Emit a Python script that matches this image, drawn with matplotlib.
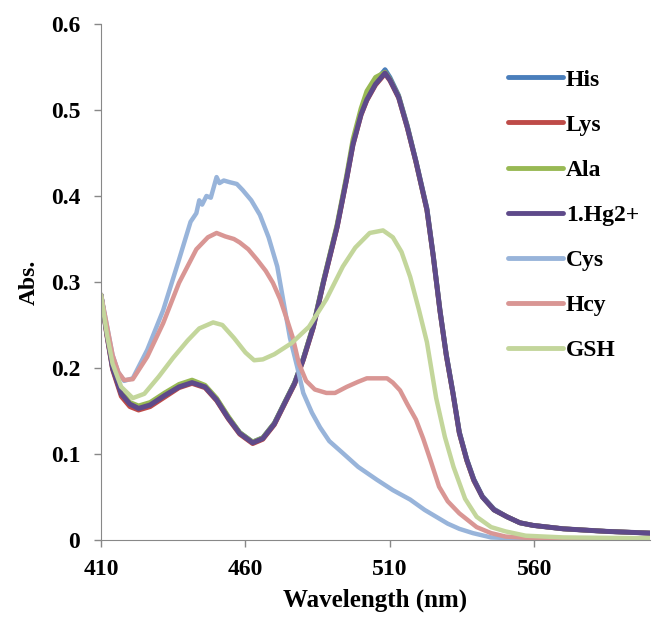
import matplotlib

matplotlib.use("Agg")
import matplotlib.pyplot as plt

# wavelength grid shared by the four overlapping spectra
WL_A = [410, 412, 414, 417, 420, 423, 427, 432, 437, 441.5, 446, 450, 454, 458, 462.5,
        466, 470, 474, 477, 480, 483.5, 487, 491.7, 495, 497.2, 500, 502, 505, 508.3,
        510, 513, 516, 519, 522.8, 525, 527.3, 529.5, 531.8, 534, 536.6, 539, 542, 546,
        550.5, 555, 559.5, 570, 585, 600]
HIS = [0.285, 0.24, 0.2, 0.17, 0.158, 0.154, 0.158, 0.169, 0.179, 0.184, 0.179, 0.164,
       0.143, 0.125, 0.114, 0.119, 0.136, 0.163, 0.183, 0.211, 0.249, 0.301, 0.365, 0.421,
       0.462, 0.497, 0.515, 0.533, 0.547, 0.538, 0.517, 0.482, 0.441, 0.386, 0.331, 0.268,
       0.216, 0.172, 0.126, 0.094, 0.071, 0.051, 0.036, 0.027, 0.02, 0.017, 0.013, 0.01, 0.008]
LYS = [0.285, 0.238, 0.198, 0.167, 0.155, 0.151, 0.155, 0.166, 0.177, 0.182, 0.177, 0.162,
       0.141, 0.123, 0.112, 0.117, 0.134, 0.161, 0.181, 0.209, 0.247, 0.299, 0.363, 0.419,
       0.459, 0.494, 0.511, 0.529, 0.542, 0.534, 0.514, 0.479, 0.439, 0.383, 0.329, 0.266,
       0.214, 0.17, 0.124, 0.092, 0.069, 0.05, 0.035, 0.027, 0.02, 0.017, 0.013, 0.01, 0.008]
ALA = [0.285, 0.242, 0.202, 0.172, 0.16, 0.156, 0.16, 0.171, 0.181, 0.186, 0.18, 0.165,
       0.144, 0.125, 0.114, 0.119, 0.136, 0.163, 0.183, 0.211, 0.25, 0.302, 0.367, 0.424,
       0.466, 0.502, 0.522, 0.538, 0.544, 0.536, 0.516, 0.481, 0.44, 0.384, 0.33, 0.267,
       0.215, 0.171, 0.125, 0.093, 0.07, 0.05, 0.035, 0.027, 0.02, 0.017, 0.013, 0.01, 0.008]
HG = [0.285, 0.24, 0.2, 0.17, 0.158, 0.153, 0.157, 0.168, 0.178, 0.183, 0.178, 0.163,
      0.142, 0.124, 0.113, 0.118, 0.135, 0.162, 0.182, 0.21, 0.248, 0.3, 0.364, 0.42,
      0.46, 0.495, 0.512, 0.53, 0.543, 0.535, 0.515, 0.48, 0.44, 0.384, 0.33, 0.267,
      0.215, 0.171, 0.125, 0.093, 0.07, 0.05, 0.035, 0.027, 0.02, 0.017, 0.013, 0.01, 0.008]

WL_CYS = [410, 412, 414, 416, 418, 421, 426, 431.5, 437, 441, 443, 444, 445, 446.5, 448,
          449, 450, 451, 452.5, 454.6, 457, 459, 462, 465, 468, 471, 473, 475.4, 478, 480,
          483, 485.8, 489, 493.7, 499, 505.5, 511, 517, 522, 527, 530, 534, 538.7, 545,
          560, 600]
CYS = [0.285, 0.25, 0.215, 0.195, 0.185, 0.188, 0.221, 0.267, 0.326, 0.37, 0.38, 0.395,
       0.39, 0.4, 0.398, 0.41, 0.422, 0.415, 0.418, 0.416, 0.414, 0.407, 0.395, 0.378,
       0.352, 0.318, 0.28, 0.235, 0.2, 0.171, 0.148, 0.131, 0.115, 0.101, 0.085, 0.07,
       0.058, 0.047, 0.035, 0.025, 0.019, 0.013, 0.008, 0.003, 0.001, 0.001]

WL_HCY = [410, 412, 414, 416, 418, 421, 426, 431.5, 437, 443, 447, 450, 453, 456, 458,
          461, 464, 467, 469.5, 472, 474, 476.4, 478.5, 481, 484, 488, 491, 495, 499, 502,
          506, 509, 511, 513.5, 516, 519, 521.5, 524, 527, 530, 534, 540, 545, 550, 560, 600]
HCY = [0.285, 0.25, 0.215, 0.195, 0.186, 0.187, 0.213, 0.252, 0.299, 0.338, 0.352, 0.357,
       0.353, 0.35, 0.346, 0.338, 0.326, 0.313, 0.299, 0.28, 0.26, 0.235, 0.205, 0.185,
       0.175, 0.171, 0.171, 0.178, 0.184, 0.188, 0.188, 0.188, 0.183, 0.174, 0.158, 0.14,
       0.118, 0.093, 0.062, 0.045, 0.031, 0.015, 0.008, 0.004, 0.002, 0.002]

WL_GSH = [410, 412, 414, 417, 421, 425, 430, 435, 440, 444, 448.8, 452, 456, 460, 463,
          466, 470, 476, 482, 488, 493.7, 498, 503, 507.6, 511, 514, 517, 520, 522.8, 526,
          529, 532, 536, 540, 545, 550, 557, 570, 600]
GSH = [0.285, 0.24, 0.205, 0.178, 0.165, 0.17, 0.19, 0.212, 0.232, 0.246, 0.253, 0.25,
       0.235, 0.218, 0.209, 0.21, 0.216, 0.229, 0.248, 0.28, 0.318, 0.34, 0.357, 0.36,
       0.352, 0.335, 0.306, 0.268, 0.23, 0.165, 0.12, 0.085, 0.048, 0.027, 0.015, 0.01,
       0.005, 0.003, 0.002]

SERIES = [
    ("His", WL_A, HIS, "#4a7ebb", 3.4),
    ("Lys", WL_A, LYS, "#be4b48", 3.4),
    ("Ala", WL_A, ALA, "#98b954", 3.4),
    ("1.Hg2+", WL_A, HG, "#5e4a8a", 3.6),
    ("Cys", WL_CYS, CYS, "#98b4da", 3.2),
    ("Hcy", WL_HCY, HCY, "#d99694", 3.2),
    ("GSH", WL_GSH, GSH, "#c3d69b", 3.2),
]

X_TICKS = [410, 460, 510, 560]
Y_TICKS = [0, 0.1, 0.2, 0.3, 0.4, 0.5, 0.6]

plt.rcParams["font.family"] = ["Liberation Serif", "DejaVu Serif"]
plt.rcParams["font.weight"] = "bold"

fig = plt.figure(figsize=(6.53, 6.26), dpi=100)
ax = fig.add_axes([101 / 653, 86 / 626, 549 / 653, 516 / 626])

for label, wl, ab, color, lw in SERIES:
    ax.plot(wl, ab, color=color, lw=lw, label=label, solid_capstyle="round")

ax.set_xlim(410, 600)
ax.set_ylim(0, 0.6)
ax.set_xticks(X_TICKS)
ax.set_yticks(Y_TICKS)
ax.set_yticklabels(["0" if t == 0 else f"{t:.1f}" for t in Y_TICKS])
ax.tick_params(labelsize=17, color="#888888", length=5, width=1)
ax.tick_params(axis="x", pad=9)
ax.tick_params(axis="y", pad=10)
for side in ("top", "right"):
    ax.spines[side].set_visible(False)
for side in ("left", "bottom"):
    ax.spines[side].set_color("#888888")

ax.set_xlabel("Wavelength (nm)", fontsize=18, fontweight="bold", labelpad=6)
ax.set_ylabel("Abs.", fontsize=17, fontweight="bold", labelpad=8)

leg = ax.legend(loc="upper left", bbox_to_anchor=(508 / 653, 1 - 69 / 626),
                bbox_transform=fig.transFigure, frameon=False, fontsize=17,
                handlelength=2.35, handletextpad=0.1, labelspacing=1.0,
                borderpad=0, borderaxespad=0)
for line in leg.get_lines():
    line.set_linewidth(3.5)

fig.savefig("out.png", dpi=100)
